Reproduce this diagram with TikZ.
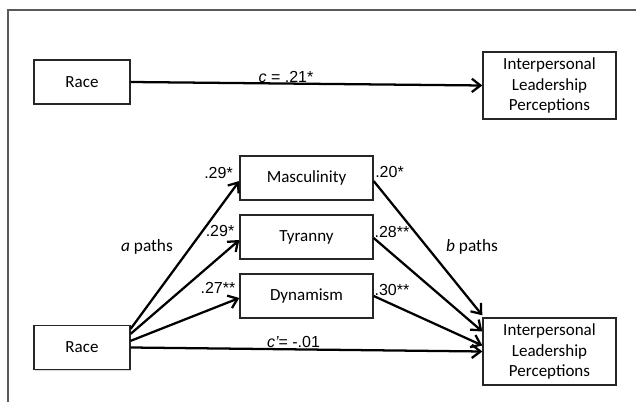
\documentclass[tikz,border=0pt]{standalone}
\usepackage{fontspec}
\setmainfont{Carlito}
\newfontfamily\arialf{Liberation Sans}
\usetikzlibrary{arrows.meta,calc,shadows}
\begin{document}
\begin{tikzpicture}[x=0.75pt,y=-0.75pt,
  box/.style={draw=black!85, line width=1pt, fill=white, inner sep=0pt, align=center,
    font=\fontsize{12.75pt}{15.4pt}\selectfont,
    drop shadow={shadow xshift=0.8pt, shadow yshift=-0.8pt, opacity=0.25, fill=black!60}},
  racebox/.style={box, minimum width=72pt, minimum height=33pt},
  medbox/.style={box, minimum width=99.75pt, minimum height=33pt},
  ilpbox/.style={box, minimum width=99.75pt, minimum height=50.25pt},
  conn/.style={line width=1.7pt, -{Straight Barb[length=6.5pt,width=10pt]}},
  lab/.style={font=\arialf\fontsize{12pt}{14pt}\selectfont, inner sep=0pt},
  plab/.style={font=\fontsize{13pt}{15pt}\selectfont, inner sep=0pt},
  frame/.style={draw=black!65, line width=1.3pt}]
\useasboundingbox (0,0) rectangle (636,402);
\fill[white] (0,0) rectangle (636,402);
\draw[frame] (8,402) -- (8,10) -- (636,10);

% top model
\node[racebox] (race1) at (82,82) {Race};
\node[ilpbox] (ilp1) at (549.5,85.5) {Interpersonal\\Leadership\\Perceptions};
\draw[conn] (race1.east) -- (ilp1.west);
\node[lab] (lc) at (286,77) {{\itshape c} = .21*};

% mediation model
\node[medbox] (masc) at (306.5,178) {Masculinity};
\node[medbox] (tyr) at (306.5,237) {Tyranny};
\node[medbox] (dyn) at (306.5,296) {Dynamism};
\node[racebox] (race2) at (82,347.5) {Race};
\node[ilpbox] (ilp2) at (549.5,351.5) {Interpersonal\\Leadership\\Perceptions};

\draw[conn] ($(race2.north east)+(0,4)$) -- ($(masc.west)+(0,3)$);
\draw[conn] ($(race2.north east)+(0,9)$) -- ($(tyr.west)+(0,3)$);
\draw[conn] ($(race2.north east)+(0,16)$) -- ($(dyn.west)+(0,2)$);
\draw[conn] (race2.east) -- (ilp2.west);

\draw[conn] ($(masc.east)+(0,3)$) -- ($(ilp2.north west)+(0,-2)$);
\draw[conn] ($(tyr.east)+(0,1)$) -- ($(ilp2.west)+(0,-20)$);
\draw[conn] ($(dyn.east)+(0,0)$) -- ($(ilp2.west)+(0,-6)$);

\node[lab] (l1) at (218.5,173) {.29*};
\node[lab] (l2) at (220,231) {.29*};
\node[lab] (l3) at (218,288) {.27**};
\node[lab] (l4) at (389.5,172) {.20*};
\node[lab] (l5) at (392,232) {.28**};
\node[lab] (l6) at (392,290) {.30**};
\node[lab] (lcp) at (293.5,341.5) {{\itshape c’}= -.01};
\node[plab] (pa) at (147,247) {\textit{a} paths};
\node[plab] (pb) at (472,247) {\textit{b} paths};
\end{tikzpicture}
\end{document}
